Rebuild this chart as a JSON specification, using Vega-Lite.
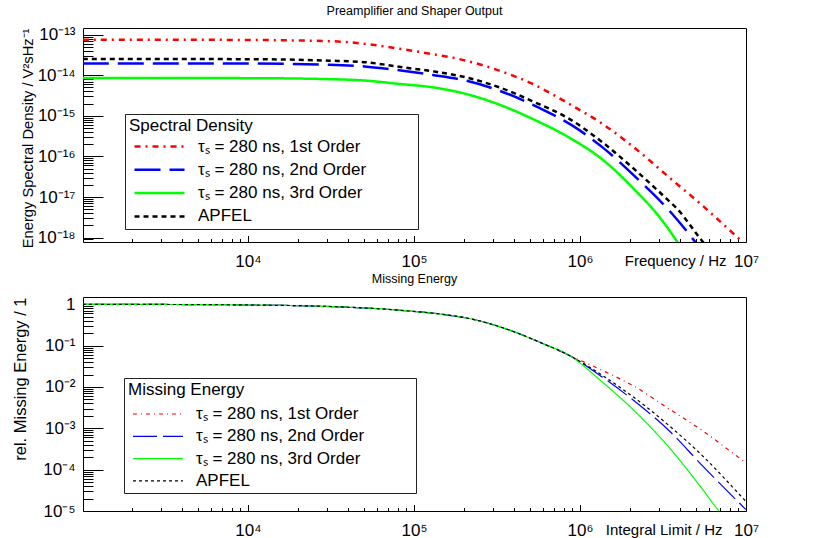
{
  "$schema": "https://vega.github.io/schema/vega-lite/v6.json",
  "padding": {"left": 11, "top": 4, "right": 0, "bottom": 0},
  "background": "white",
  "datasets": {
    "sd": [
      {"s": "1st", "f": 1012, "v": 7.53e-14},
      {"s": "1st", "f": 3162, "v": 7.50e-14},
      {"s": "1st", "f": 10000, "v": 7.40e-14},
      {"s": "1st", "f": 30903, "v": 6.92e-14},
      {"s": "1st", "f": 51761, "v": 5.90e-14},
      {"s": "1st", "f": 85704, "v": 4.37e-14},
      {"s": "1st", "f": 129718, "v": 3.31e-14},
      {"s": "1st", "f": 206063, "v": 2.29e-14},
      {"s": "1st", "f": 326588, "v": 1.30e-14},
      {"s": "1st", "f": 518800, "v": 6.11e-15},
      {"s": "1st", "f": 862979, "v": 1.96e-15},
      {"s": "1st", "f": 1368000, "v": 6.31e-16},
      {"s": "1st", "f": 2173000, "v": 1.53e-16},
      {"s": "1st", "f": 3443000, "v": 3.05e-17},
      {"s": "1st", "f": 5470000, "v": 6.14e-18},
      {"s": "1st", "f": 8872000, "v": 1.02e-18},
      {"s": "1st", "f": 10000000, "v": 6.46e-19},
      {"s": "2nd", "f": 1012, "v": 1.96e-14},
      {"s": "2nd", "f": 3162, "v": 1.96e-14},
      {"s": "2nd", "f": 10000, "v": 1.95e-14},
      {"s": "2nd", "f": 30903, "v": 1.82e-14},
      {"s": "2nd", "f": 51761, "v": 1.63e-14},
      {"s": "2nd", "f": 85704, "v": 1.29e-14},
      {"s": "2nd", "f": 129718, "v": 1.02e-14},
      {"s": "2nd", "f": 206063, "v": 7.36e-15},
      {"s": "2nd", "f": 326588, "v": 4.18e-15},
      {"s": "2nd", "f": 568853, "v": 1.57e-15},
      {"s": "2nd", "f": 901571, "v": 5.74e-16},
      {"s": "2nd", "f": 1368000, "v": 1.67e-16},
      {"s": "2nd", "f": 2173000, "v": 3.05e-17},
      {"s": "2nd", "f": 3443000, "v": 4.68e-18},
      {"s": "2nd", "f": 4875000, "v": 8.43e-19},
      {"s": "2nd", "f": 5248000, "v": 5.7e-19},
      {"s": "3rd", "f": 1012, "v": 8.57e-15},
      {"s": "3rd", "f": 3162, "v": 8.55e-15},
      {"s": "3rd", "f": 10000, "v": 8.49e-15},
      {"s": "3rd", "f": 30903, "v": 8.02e-15},
      {"s": "3rd", "f": 51761, "v": 7.36e-15},
      {"s": "3rd", "f": 81846, "v": 6.11e-15},
      {"s": "3rd", "f": 129718, "v": 5.04e-15},
      {"s": "3rd", "f": 206063, "v": 3.46e-15},
      {"s": "3rd", "f": 326588, "v": 1.89e-15},
      {"s": "3rd", "f": 518800, "v": 8.39e-16},
      {"s": "3rd", "f": 862979, "v": 2.90e-16},
      {"s": "3rd", "f": 1368000, "v": 8.34e-17},
      {"s": "3rd", "f": 2173000, "v": 1.40e-17},
      {"s": "3rd", "f": 2999000, "v": 3.29e-18},
      {"s": "3rd", "f": 3850000, "v": 7.96e-19},
      {"s": "3rd", "f": 4540000, "v": 2.9e-19},
      {"s": "APFEL", "f": 1012, "v": 2.52e-14},
      {"s": "APFEL", "f": 3162, "v": 2.51e-14},
      {"s": "APFEL", "f": 10000, "v": 2.49e-14},
      {"s": "APFEL", "f": 30903, "v": 2.29e-14},
      {"s": "APFEL", "f": 51761, "v": 2.08e-14},
      {"s": "APFEL", "f": 85704, "v": 1.57e-14},
      {"s": "APFEL", "f": 129718, "v": 1.25e-14},
      {"s": "APFEL", "f": 206063, "v": 8.87e-15},
      {"s": "APFEL", "f": 326588, "v": 5.04e-15},
      {"s": "APFEL", "f": 518800, "v": 2.28e-15},
      {"s": "APFEL", "f": 862979, "v": 8.39e-16},
      {"s": "APFEL", "f": 1368000, "v": 2.22e-16},
      {"s": "APFEL", "f": 2173000, "v": 4.47e-17},
      {"s": "APFEL", "f": 3443000, "v": 7.94e-18},
      {"s": "APFEL", "f": 3793000, "v": 5.48e-18},
      {"s": "APFEL", "f": 5224000, "v": 1.02e-18},
      {"s": "APFEL", "f": 5754000, "v": 6.2e-19}
    ],
    "me": [
      {"s": "1st", "f": 1012, "v": 1.0},
      {"s": "1st", "f": 3162, "v": 0.99},
      {"s": "1st", "f": 10000, "v": 0.962},
      {"s": "1st", "f": 32359, "v": 0.879},
      {"s": "1st", "f": 93972, "v": 0.687},
      {"s": "1st", "f": 148936, "v": 0.571},
      {"s": "1st", "f": 236592, "v": 0.416},
      {"s": "1st", "f": 374973, "v": 0.238},
      {"s": "1st", "f": 595662, "v": 0.113},
      {"s": "1st", "f": 862979, "v": 0.0578},
      {"s": "1st", "f": 1368000, "v": 0.0250},
      {"s": "1st", "f": 2173000, "v": 0.00984},
      {"s": "1st", "f": 3443000, "v": 0.00294},
      {"s": "1st", "f": 5470000, "v": 8.75e-4},
      {"s": "1st", "f": 9506000, "v": 1.70e-4},
      {"s": "1st", "f": 10000000, "v": 1.47e-4},
      {"s": "2nd", "f": 1012, "v": 1.0},
      {"s": "2nd", "f": 3162, "v": 0.99},
      {"s": "2nd", "f": 10000, "v": 0.962},
      {"s": "2nd", "f": 32359, "v": 0.879},
      {"s": "2nd", "f": 93972, "v": 0.687},
      {"s": "2nd", "f": 148936, "v": 0.571},
      {"s": "2nd", "f": 236592, "v": 0.416},
      {"s": "2nd", "f": 374973, "v": 0.238},
      {"s": "2nd", "f": 595662, "v": 0.113},
      {"s": "2nd", "f": 862979, "v": 0.0578},
      {"s": "2nd", "f": 1368000, "v": 0.0172},
      {"s": "2nd", "f": 2173000, "v": 0.00426},
      {"s": "2nd", "f": 3443000, "v": 8.75e-4},
      {"s": "2nd", "f": 5470000, "v": 1.24e-4},
      {"s": "2nd", "f": 9506000, "v": 1.32e-5},
      {"s": "2nd", "f": 10000000, "v": 1.08e-5},
      {"s": "3rd", "f": 1012, "v": 1.0},
      {"s": "3rd", "f": 3162, "v": 0.99},
      {"s": "3rd", "f": 10000, "v": 0.962},
      {"s": "3rd", "f": 32359, "v": 0.879},
      {"s": "3rd", "f": 93972, "v": 0.687},
      {"s": "3rd", "f": 148936, "v": 0.571},
      {"s": "3rd", "f": 236592, "v": 0.416},
      {"s": "3rd", "f": 374973, "v": 0.238},
      {"s": "3rd", "f": 595662, "v": 0.113},
      {"s": "3rd", "f": 862979, "v": 0.0578},
      {"s": "3rd", "f": 1368000, "v": 0.0130},
      {"s": "3rd", "f": 2173000, "v": 0.00243},
      {"s": "3rd", "f": 3443000, "v": 3.44e-4},
      {"s": "3rd", "f": 5470000, "v": 3.37e-5},
      {"s": "3rd", "f": 6950000, "v": 9.62e-6},
      {"s": "3rd", "f": 7413000, "v": 7.4e-6},
      {"s": "APFEL", "f": 1012, "v": 1.0},
      {"s": "APFEL", "f": 3162, "v": 0.99},
      {"s": "APFEL", "f": 10000, "v": 0.962},
      {"s": "APFEL", "f": 32359, "v": 0.879},
      {"s": "APFEL", "f": 93972, "v": 0.687},
      {"s": "APFEL", "f": 148936, "v": 0.571},
      {"s": "APFEL", "f": 236592, "v": 0.416},
      {"s": "APFEL", "f": 374973, "v": 0.238},
      {"s": "APFEL", "f": 595662, "v": 0.113},
      {"s": "APFEL", "f": 862979, "v": 0.0578},
      {"s": "APFEL", "f": 1368000, "v": 0.0189},
      {"s": "APFEL", "f": 2173000, "v": 0.00514},
      {"s": "APFEL", "f": 3443000, "v": 0.00116},
      {"s": "APFEL", "f": 5470000, "v": 2.16e-4},
      {"s": "APFEL", "f": 9311000, "v": 2.31e-5},
      {"s": "APFEL", "f": 10000000, "v": 1.7e-5}
    ]
  },
  "spacing": 55,
  "bounds": "flush",
  "vconcat": [
    {
      "width": 663,
      "height": 214,
      "title": {"text": "Preamplifier and Shaper Output", "offset": 8},
      "data": {"name": "sd"},
      "layer": [
        {
          "mark": {"type": "line", "interpolate": "monotone", "clip": true, "strokeWidth": 2.5},
          "encoding": {
            "x": {
              "field": "f", "type": "quantitative",
              "scale": {"type": "log", "domain": [1015, 10000000], "nice": false},
              "axis": {
                "values": [10000, 100000, 1000000, 10000000],
                "labelExpr": "['10⁴','10⁵','10⁶','10⁷'][round(log(datum.value)/LN10) - 4]",
                "tickSize": -6.5, "labelPadding": 30.5, "labelBaseline": "alphabetic", "labelFlush": false, "labelOverlap": false,
                "title": "Frequency / Hz", "titleX": 643, "titleY": 23, "titleAlign": "right", "titleBaseline": "alphabetic", "titleFontSize": 15
              }
            },
            "y": {
              "field": "v", "type": "quantitative",
              "scale": {"type": "log", "domain": [7.8e-19, 1.46e-13], "nice": false},
              "axis": {
                "values": [1e-18, 1e-17, 1e-16, 1e-15, 1e-14, 1e-13],
                "labelExpr": "['10⁻¹⁸','10⁻¹⁷','10⁻¹⁶','10⁻¹⁵','10⁻¹⁴','10⁻¹³'][round(log(datum.value)/LN10) + 18]",
                "tickSize": -20, "labelPadding": 28, "labelBaseline": "middle", "labelOverlap": false, "labelFlush": false,
                "title": "Energy Spectral Density / V²sHz⁻¹", "titleAnchor": "end", "titleAngle": 270, "titleX": -55, "titleBaseline": "middle", "titleFontSize": 14.7
              }
            },
            "color": {
              "field": "s", "type": "nominal",
              "scale": {"domain": ["1st", "2nd", "3rd", "APFEL"], "range": ["#ff0000", "#0000ff", "#00ff00", "#000000"]},
              "legend": {
                "orient": "none", "legendX": 42, "legendY": 86,
                "title": "Spectral Density",
                "symbolType": "M-0.6,0H4.4", "symbolSize": 400, "symbolStrokeWidth": 2.5,
                "labelOffset": 46, "rowPadding": 3.3, "titlePadding": 0, "padding": 4,
                "labelExpr": "(datum.label == 'APFEL' ? 'APFEL' : 'τₛ = 280 ns, ' + datum.label + ' Order') + '\u00a0\u00a0\u00a0\u00a0\u00a0\u00a0\u00a0\u00a0\u00a0\u00a0\u200b'"
              }
            },
            "strokeDash": {
              "field": "s", "type": "nominal",
              "scale": {"domain": ["1st", "2nd", "3rd", "APFEL"], "range": [[6, 5, 2, 5], [26, 9], [1, 0], [5, 4]]},
              "legend": {
                "orient": "none", "legendX": 42, "legendY": 86,
                "title": "Spectral Density",
                "symbolType": "M-0.6,0H4.4", "symbolSize": 400, "symbolStrokeWidth": 2.5,
                "labelOffset": 46, "rowPadding": 3.3, "titlePadding": 0, "padding": 4,
                "labelExpr": "(datum.label == 'APFEL' ? 'APFEL' : 'τₛ = 280 ns, ' + datum.label + ' Order') + '\u00a0\u00a0\u00a0\u00a0\u00a0\u00a0\u00a0\u00a0\u00a0\u00a0\u200b'"
              }
            }
          }
        },
        {
          "mark": {"type": "point", "opacity": 0, "clip": true},
          "encoding": {
            "x": {
              "field": "f", "type": "quantitative",
              "scale": {"type": "log", "domain": [1015, 10000000], "nice": false},
              "axis": {
                "orient": "bottom",
                "values": [2000, 3000, 4000, 5000, 6000, 7000, 8000, 9000, 20000, 30000, 40000, 50000, 60000, 70000, 80000, 90000, 200000, 300000, 400000, 500000, 600000, 700000, 800000, 900000, 2000000, 3000000, 4000000, 5000000, 6000000, 7000000, 8000000, 9000000],
                "tickSize": -3.5, "labels": false, "title": null
              }
            },
            "y": {
              "field": "v", "type": "quantitative",
              "scale": {"type": "log", "domain": [7.8e-19, 1.46e-13], "nice": false},
              "axis": {
                "orient": "left",
                "values": [8e-19, 9e-19, 2e-18, 3e-18, 4e-18, 5e-18, 6e-18, 7e-18, 8e-18, 9e-18, 2e-17, 3e-17, 4e-17, 5e-17, 6e-17, 7e-17, 8e-17, 9e-17, 2e-16, 3e-16, 4e-16, 5e-16, 6e-16, 7e-16, 8e-16, 9e-16, 2e-15, 3e-15, 4e-15, 5e-15, 6e-15, 7e-15, 8e-15, 9e-15, 2e-14, 3e-14, 4e-14, 5e-14, 6e-14, 7e-14, 8e-14, 9e-14],
                "tickSize": -10, "labels": false, "title": null
              }
            }
          }
        }
      ],
      "resolve": {"axis": {"x": "independent", "y": "independent"}}
    },
    {
      "width": 663,
      "height": 214,
      "title": {"text": "Missing Energy", "offset": 10},
      "data": {"name": "me"},
      "layer": [
        {
          "mark": {"type": "line", "interpolate": "monotone", "clip": true, "strokeWidth": 1.2},
          "encoding": {
            "x": {
              "field": "f", "type": "quantitative",
              "scale": {"type": "log", "domain": [1015, 10000000], "nice": false},
              "axis": {
                "values": [10000, 100000, 1000000, 10000000],
                "labelExpr": "['10⁴','10⁵','10⁶','10⁷'][round(log(datum.value)/LN10) - 4]",
                "tickSize": -6.5, "labelPadding": 30.5, "labelBaseline": "alphabetic", "labelFlush": false, "labelOverlap": false,
                "title": "Integral Limit / Hz", "titleX": 639, "titleY": 23, "titleAlign": "right", "titleBaseline": "alphabetic", "titleFontSize": 15
              }
            },
            "y": {
              "field": "v", "type": "quantitative",
              "scale": {"type": "log", "domain": [1e-5, 1.5], "nice": false},
              "axis": {
                "values": [1e-5, 1e-4, 0.001, 0.01, 0.1, 1],
                "labelExpr": "['10⁻⁵','10⁻⁴','10⁻³','10⁻²','10⁻¹','1'][round(log(datum.value)/LN10) + 5]",
                "tickSize": -20, "labelPadding": 28, "labelBaseline": "middle", "labelOverlap": false, "labelFlush": false,
                "title": "rel. Missing Energy / 1", "titleAnchor": "end", "titleAngle": 270, "titleX": -63, "titleBaseline": "middle", "titleFontSize": 16.5
              }
            },
            "color": {
              "field": "s", "type": "nominal",
              "scale": {"domain": ["1st", "2nd", "3rd", "APFEL"], "range": ["#ff0000", "#0000ff", "#00ff00", "#000000"]},
              "legend": {
                "orient": "none", "legendX": 41, "legendY": 81,
                "title": "Missing Energy",
                "symbolType": "M-0.6,0H4.4", "symbolSize": 400, "symbolStrokeWidth": 1.2,
                "labelOffset": 46, "rowPadding": 3.3, "titlePadding": 4, "padding": 4,
                "labelExpr": "(datum.label == 'APFEL' ? 'APFEL' : 'τₛ = 280 ns, ' + datum.label + ' Order') + '\u00a0\u00a0\u00a0\u00a0\u00a0\u00a0\u00a0\u00a0\u00a0\u00a0\u200b'"
              }
            },
            "strokeDash": {
              "field": "s", "type": "nominal",
              "scale": {"domain": ["1st", "2nd", "3rd", "APFEL"], "range": [[4, 4, 1, 4], [24, 6], [1, 0], [3, 3]]},
              "legend": {
                "orient": "none", "legendX": 41, "legendY": 81,
                "title": "Missing Energy",
                "symbolType": "M-0.6,0H4.4", "symbolSize": 400, "symbolStrokeWidth": 1.2,
                "labelOffset": 46, "rowPadding": 3.3, "titlePadding": 4, "padding": 4,
                "labelExpr": "(datum.label == 'APFEL' ? 'APFEL' : 'τₛ = 280 ns, ' + datum.label + ' Order') + '\u00a0\u00a0\u00a0\u00a0\u00a0\u00a0\u00a0\u00a0\u00a0\u00a0\u200b'"
              }
            }
          }
        },
        {
          "mark": {"type": "point", "opacity": 0, "clip": true},
          "encoding": {
            "x": {
              "field": "f", "type": "quantitative",
              "scale": {"type": "log", "domain": [1015, 10000000], "nice": false},
              "axis": {
                "orient": "bottom",
                "values": [2000, 3000, 4000, 5000, 6000, 7000, 8000, 9000, 20000, 30000, 40000, 50000, 60000, 70000, 80000, 90000, 200000, 300000, 400000, 500000, 600000, 700000, 800000, 900000, 2000000, 3000000, 4000000, 5000000, 6000000, 7000000, 8000000, 9000000],
                "tickSize": -3.5, "labels": false, "title": null
              }
            },
            "y": {
              "field": "v", "type": "quantitative",
              "scale": {"type": "log", "domain": [1e-5, 1.5], "nice": false},
              "axis": {
                "orient": "left",
                "values": [2e-5, 3e-5, 4e-5, 5e-5, 6e-5, 7e-5, 8e-5, 9e-5, 2e-4, 3e-4, 4e-4, 5e-4, 6e-4, 7e-4, 8e-4, 9e-4, 0.002, 0.003, 0.004, 0.005, 0.006, 0.007, 0.008, 0.009, 0.02, 0.03, 0.04, 0.05, 0.06, 0.07, 0.08, 0.09, 0.2, 0.3, 0.4, 0.5, 0.6, 0.7, 0.8, 0.9],
                "tickSize": -10, "labels": false, "title": null
              }
            }
          }
        }
      ],
      "resolve": {"axis": {"x": "independent", "y": "independent"}}
    }
  ],
  "resolve": {
    "scale": {"x": "independent", "y": "independent", "color": "independent", "strokeDash": "independent"},
    "legend": {"color": "independent", "strokeDash": "independent"}
  },
  "config": {
    "font": "Liberation Sans",
    "view": {"stroke": "#000000", "strokeWidth": 1},
    "axis": {
      "grid": false, "domain": false,
      "labelFont": "Liberation Sans", "labelFontSize": 17, "labelColor": "#000000",
      "titleFont": "Liberation Sans", "titleColor": "#000000", "titleFontWeight": "normal",
      "tickColor": "#000000", "tickWidth": 1
    },
    "title": {"font": "Liberation Sans", "fontSize": 12.5, "fontWeight": "normal", "color": "#000000", "baseline": "alphabetic"},
    "legend": {
      "labelFont": "Liberation Sans", "labelFontSize": 17, "labelColor": "#000000",
      "titleFont": "Liberation Sans", "titleFontSize": 17, "titleFontWeight": "normal", "titleColor": "#000000",
      "strokeColor": "#222222", "fillColor": "#ffffff",
      "labelLimit": 400, "titleLimit": 600
    }
  }
}
